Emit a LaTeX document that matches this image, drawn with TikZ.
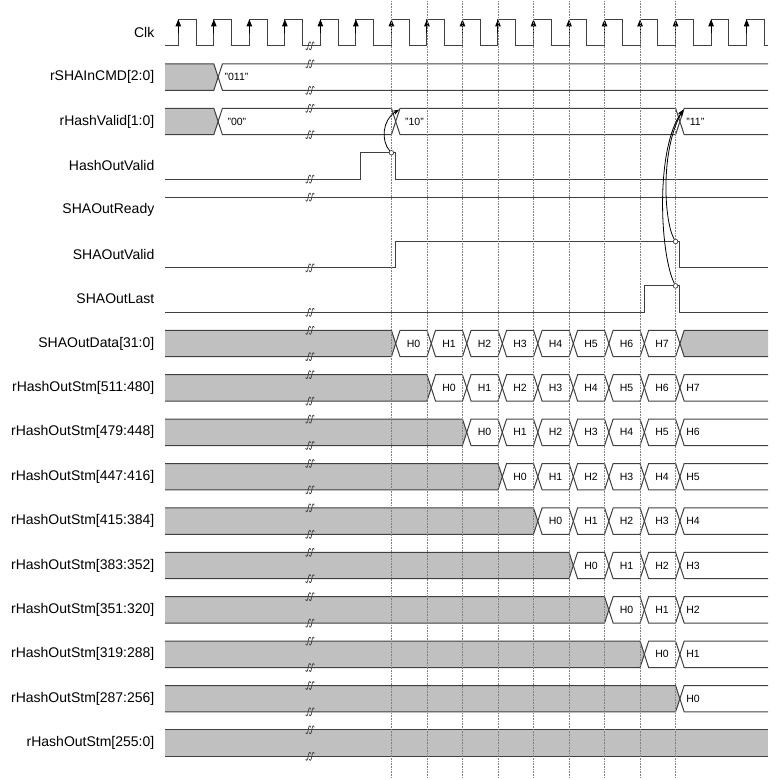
\documentclass[tikz,border=0pt]{standalone}
\usepackage{fontspec}
\setmainfont{Liberation Sans}
\usetikzlibrary{arrows.meta}

\definecolor{wavecol}{RGB}{64,64,64}
\definecolor{busgray}{RGB}{192,192,192}

% x of clock edge #1 and y of the top of row #1
\newcommand{\edgex}[1]{(178.3+35.52*(#1))}
\newcommand{\rowy}[1]{(19.5+44.4*(#1))}

% gray (unknown) value up to edge #2 on row #1
\newcommand{\graystart}[2]{%
  \fill[busgray] (165,{\rowy{#1}}) -- ({\edgex{#2}},{\rowy{#1}}) -- ({\edgex{#2}+4.3},{\rowy{#1}+13.2}) -- ({\edgex{#2}},{\rowy{#1}+26.4}) -- (165,{\rowy{#1}+26.4}) -- cycle;
  \draw[wave] (165,{\rowy{#1}}) -- ({\edgex{#2}},{\rowy{#1}}) -- ({\edgex{#2}+4.3},{\rowy{#1}+13.2}) -- ({\edgex{#2}},{\rowy{#1}+26.4}) -- (165,{\rowy{#1}+26.4});}
% one bus value from edge #2 to edge #3
\newcommand{\segshape}[3]{%
  \draw[wave] ({\edgex{#2}+4.3},{\rowy{#1}+13.2}) -- ({\edgex{#2}+8.6},{\rowy{#1}}) -- ({\edgex{#3}},{\rowy{#1}}) -- ({\edgex{#3}+4.3},{\rowy{#1}+13.2}) -- ({\edgex{#3}},{\rowy{#1}+26.4}) -- ({\edgex{#2}+8.6},{\rowy{#1}+26.4}) -- cycle;}
\newcommand{\hseg}[4]{\segshape{#1}{#2}{#3}
  \node[val] (v#1-#2) at ({(\edgex{#2}+\edgex{#3})/2+4.3},{\rowy{#1}+13.2}) {#4};}
% last value, open to the right
\newcommand{\opentail}[3]{%
  \draw[wave] (768,{\rowy{#1}}) -- ({\edgex{#2}+8.6},{\rowy{#1}}) -- ({\edgex{#2}+4.3},{\rowy{#1}+13.2}) -- ({\edgex{#2}+8.6},{\rowy{#1}+26.4}) -- (768,{\rowy{#1}+26.4});
  \node[val,anchor=west] (t#1) at ({\edgex{#2}+8.6},{\rowy{#1}+13.2}) {#3};}
% rHashOutStm row: gray up to edge #2, then H0, H1, ...
\newcommand{\stmrow}[2]{\graystart{#1}{#2}
  \foreach \k in {#2,...,13} {\pgfmathtruncatemacro\nk{\k+1}\pgfmathtruncatemacro\hk{\k-#2}\hseg{#1}{\k}{\nk}{H\hk}}
  \pgfmathtruncatemacro\hk{14-#2}\opentail{#1}{14}{H\hk}}
% time break mark
\newcommand{\gapmark}[1]{%
  \foreach \o in {-1.8,1.8} {\draw[line width=0.7pt,wavecol] ({307.6+\o},{#1+2.6}) .. controls ({308+\o},{#1+5}) and ({309.4+\o},{#1+4.6}) .. ({310+\o},{#1}) .. controls ({310.6+\o},{#1-4.6}) and ({312+\o},{#1-5}) .. ({312.4+\o},{#1-2.6});}}

\begin{document}
\begin{tikzpicture}[x=1pt,y=-1pt,
    wave/.style={line width=1pt,wavecol},
    val/.style={inner sep=2pt,font=\fontsize{10.5}{12}\selectfont},
    lbl/.style={anchor=east,inner sep=0pt,font=\fontsize{14}{16}\selectfont},
    dot/.style={circle,draw=wavecol,fill=white,line width=0.7pt,inner sep=0pt,minimum size=4.6pt},
    cause/.style={line width=0.8pt,-{Stealth[length=6.5pt,width=4.5pt]}},
    timeline/.style={black!50,line width=0.45pt,dash pattern=on 0.8pt off 0.8pt}]
\useasboundingbox (0,0) rectangle (779,780);

% signal names
\node[lbl] (lclk) at (154.5,32.7) {Clk};
\node[lbl] (lcmd) at (154.5,77.1) {rSHAInCMD[2:0]};
\node[lbl] (lvalid) at (154.5,121.5) {rHashValid[1:0]};
\node[lbl] (lhov) at (154.5,165.9) {HashOutValid};
\node[lbl] (lready) at (154.5,210.3) {SHAOutReady};
\node[lbl] (lsov) at (154.5,254.7) {SHAOutValid};
\node[lbl] (llast) at (154.5,299.1) {SHAOutLast};
\node[lbl] (ldata) at (154.5,343.5) {SHAOutData[31:0]};
\node[lbl] (lstma) at (154.5,387.9) {rHashOutStm[511:480]};
\node[lbl] (lstmb) at (154.5,432.3) {rHashOutStm[479:448]};
\node[lbl] (lstmc) at (154.5,476.7) {rHashOutStm[447:416]};
\node[lbl] (lstmd) at (154.5,521.1) {rHashOutStm[415:384]};
\node[lbl] (lstme) at (154.5,565.5) {rHashOutStm[383:352]};
\node[lbl] (lstmf) at (154.5,609.9) {rHashOutStm[351:320]};
\node[lbl] (lstmg) at (154.5,654.3) {rHashOutStm[319:288]};
\node[lbl] (lstmh) at (154.5,698.7) {rHashOutStm[287:256]};
\node[lbl] (lstmi) at (154.5,743.1) {rHashOutStm[255:0]};

% clock
\draw[wave] (165,45.9) \foreach \k in {0,...,16} { -- ({\edgex{\k}},45.9) -- ({\edgex{\k}},19.5) -- ({\edgex{\k}+17.76},19.5) -- ({\edgex{\k}+17.76},45.9) } -- (768,45.9);
\foreach \k in {0,...,16} {\draw[wave,black,-{Triangle[length=7pt,width=5.4pt]}] ({\edgex{\k}},33) -- ({\edgex{\k}},19.3);}

% rSHAInCMD, rHashValid
\graystart{1}{1}
\opentail{1}{1}{"011"}
\graystart{2}{1}
\segshape{2}{1}{6}
\node[val,anchor=west] (v2-1) at ({\edgex{1}+11.5},121.5) {"00"};
\segshape{2}{6}{14}
\node[val,anchor=west] (v2-6) at ({\edgex{6}+11.5},121.5) {"10"};
\opentail{2}{14}{"11"}

% single bit signals
\draw[wave] (165,179.1) -- (360.2,179.1) -- (360.2,152.7) -- (395.7,152.7) -- (395.7,179.1) -- (768,179.1);
\draw[wave] (165,197.1) -- (768,197.1);
\draw[wave] (165,267.9) -- (395.7,267.9) -- (395.7,241.5) -- (679.9,241.5) -- (679.9,267.9) -- (768,267.9);
\draw[wave] (165,312.3) -- (644.4,312.3) -- (644.4,285.9) -- (679.9,285.9) -- (679.9,312.3) -- (768,312.3);

% SHAOutData
\graystart{7}{6}
\foreach \k in {6,...,13} {\pgfmathtruncatemacro\nk{\k+1}\pgfmathtruncatemacro\hk{\k-6}\hseg{7}{\k}{\nk}{H\hk}}
\fill[busgray] (679.9,343.5) -- (684.2,330.3) -- (768,330.3) -- (768,356.7) -- (684.2,356.7) -- cycle;
\draw[wave] (768,330.3) -- (684.2,330.3) -- (679.9,343.5) -- (684.2,356.7) -- (768,356.7);

% rHashOutStm
\stmrow{8}{7}
\stmrow{9}{8}
\stmrow{10}{9}
\stmrow{11}{10}
\stmrow{12}{11}
\stmrow{13}{12}
\stmrow{14}{13}
\graystart{15}{14}
\opentail{15}{14}{H0}
\fill[busgray] (165,729.9) rectangle (768,756.3);
\draw[wave] (165,729.9) -- (768,729.9) (165,756.3) -- (768,756.3);

% breaks
\foreach \y in {45.9,63.9,90.3,108.3,134.7,179.1,197.1,267.9,312.3,330.3,356.7,374.7,401.1,419.1,445.5,463.5,489.9,507.9,534.3,552.3,578.7,596.7,623.1,641.1,667.5,685.5,711.9,729.9,756.3} {\gapmark{\y}}

% edge markers
\foreach \k in {6,...,14} {\draw[timeline] ({\edgex{\k}},1) -- ({\edgex{\k}},778);}

% causality
\node[dot] (c1) at (391.4,152.7) {};
\node[dot] (c2) at (675.6,241.5) {};
\node[dot] (c3) at (675.6,285.9) {};
\coordinate (a1) at (399.3,109.5);
\coordinate (a2) at (683.5,109.5);
\draw[cause] (c1) .. controls (381,141) and (382,120) .. (a1);
\draw[cause] (c2) .. controls (664,222) and (660,150) .. (a2);
\draw[cause] (c3) .. controls (660,255) and (655,150) .. (a2);
\end{tikzpicture}
\end{document}
